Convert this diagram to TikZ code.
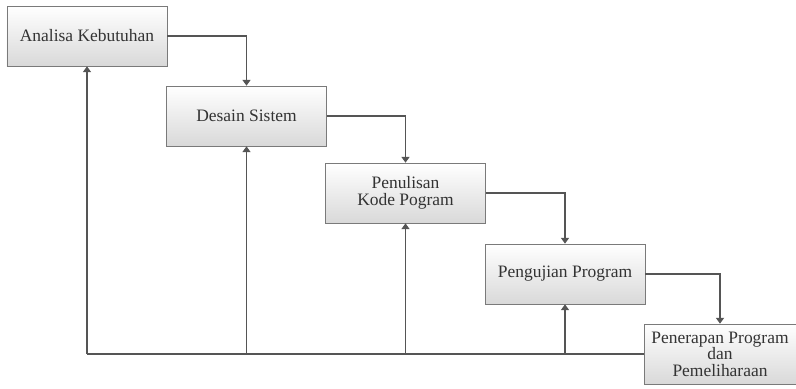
\documentclass[tikz,border=0pt]{standalone}
\usepackage{fontspec}
\setmainfont{Liberation Serif}
\newfontfamily\tahapfont{Liberation Serif}
\usepackage{tikz}
\usetikzlibrary{arrows.meta}
\definecolor{lijn}{HTML}{555555}
\definecolor{rand}{HTML}{7A7A7A}

\begin{document}
\begin{tikzpicture}[x=0.03cm, y=-0.03cm,
        tahap/.style={draw=rand, line width=0.6pt, top color=white, bottom color=black!15,
            minimum width=4.8cm, minimum height=1.8cm, inner sep=0pt, align=center,
            text=black!80, font=\tahapfont\fontsize{14.9}{14}\selectfont},
        panah/.style={draw=lijn, line width=0.9pt, -{Triangle[width=7pt,length=5pt]}},
        garis/.style={draw=lijn, line width=0.9pt}]
        \useasboundingbox (0,0) rectangle (796,388);

        \node[tahap] (analisa) at (87,36) {Analisa Kebutuhan};
        \node[tahap] (desain) at (246.5,116) {Desain Sistem};
        \node[tahap] (tulis) at (405.5,193) {Penulisan\\Kode Pogram};
        \node[tahap] (uji) at (565,274) {Pengujian Program};
        \node[tahap, minimum width=4.56cm] (terap) at (720,354) {Penerapan Program\\dan\\Pemeliharaan};

        \draw[panah] (analisa.east) -| (desain.north);
        \draw[panah] (desain.east) -| (tulis.north);
        \draw[panah] (tulis.east) -| (uji.north);
        \draw[panah] (uji.east) -| (terap.north);

        % jalur balik
        \coordinate (b1) at (analisa.south |- terap.west);
        \coordinate (b2) at (desain.south |- terap.west);
        \coordinate (b3) at (tulis.south |- terap.west);
        \coordinate (b4) at (uji.south |- terap.west);
        \draw[garis] (terap.west) -- (b1);
        \draw[panah] (b1) -- (analisa.south);
        \draw[panah] (b2) -- (desain.south);
        \draw[panah] (b3) -- (tulis.south);
        \draw[panah] (b4) -- (uji.south);
    \end{tikzpicture}
\end{document}
